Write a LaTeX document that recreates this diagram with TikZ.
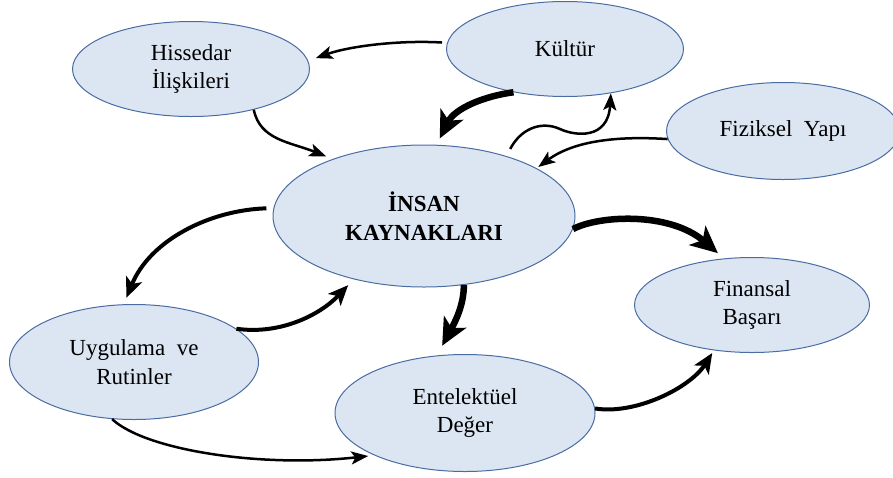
\documentclass[tikz,border=0pt]{standalone}
\usepackage{fontspec}
\setmainfont{Liberation Serif}
\usetikzlibrary{arrows.meta,shapes.geometric}
\definecolor{ovalfill}{HTML}{DCE6F2}
\definecolor{ovaldraw}{HTML}{4A6CA3}
\tikzset{
  oval/.style={ellipse, draw=ovaldraw, line width=1pt, fill=ovalfill,
    inner sep=0pt, align=center, font=\fontsize{23}{28.5}\selectfont},
  thinarrow/.style={line width=2.5pt, -{Stealth[length=17pt,width=13pt,inset=4pt]}},
  midarrow/.style={line width=4pt, -{Stealth[length=20pt,width=17pt,inset=5pt]}},
  bigarrow/.style={line width=6.5pt, -{Stealth[length=27pt,width=25pt,inset=7pt]}},
}
\begin{document}
\begin{tikzpicture}[x=1pt,y=-1pt]
\useasboundingbox (0,0) rectangle (893,477);

% ovals
\node[oval, minimum width=302pt, minimum height=142pt, font=\fontsize{23}{29}\selectfont\bfseries]
  (hr) at (424,216) {İNSAN\\KAYNAKLARI};
\node[oval, minimum width=237pt, minimum height=95pt] (hiss) at (191,69) {Hissedar\\İlişkileri};
\node[oval, minimum width=237pt, minimum height=95pt] (kult) at (565,49) {Kültür};
\node[oval, minimum width=233pt, minimum height=97pt] (fiz) at (783,131) {Fiziksel~~Yapı};
\node[oval, minimum width=235pt, minimum height=95pt] (fin) at (752,305) {Finansal\\Başarı};
\node[oval, minimum width=249pt, minimum height=115pt] (uyg) at (134,362) {Uygulama~~ve\\Rutinler};
\node[oval, minimum width=260pt, minimum height=117pt] (ent) at (465,413) {Entelektüel\\Değer};

% thin connectors
\draw[thinarrow, shorten <=5pt, shorten >=8pt]
  (kult.177) .. controls (400,40) and (350,46) .. (hiss.4);
\draw[thinarrow, shorten >=7pt]
  (hiss.-33) .. controls (260,140) and (290,142) .. (hr.148);
\draw[thinarrow, shorten <=8pt]
  (hr.36) .. controls (520,130) and (540,120) .. (560,129)
          .. controls (575,136) and (608,140) .. (kult.-44);
\draw[thinarrow, shorten >=2pt]
  (fiz.184) .. controls (620,136) and (575,140) .. (hr.23);
\draw[thinarrow, shorten >=6pt]
  (uyg.-111) .. controls (145,450) and (260,468) .. (ent.-155);

% medium connectors
\draw[midarrow, shorten <=7pt, shorten >=7pt]
  (hr.177) .. controls (210,210) and (150,240) .. (uyg.100);
\draw[midarrow, shorten >=8pt]
  (uyg.18) .. controls (280,335) and (320,315) .. (hr.-138);
\draw[midarrow, shorten >=3pt]
  (ent.2) .. controls (635,415) and (690,388) .. (fin.-130);

% heavy connectors
\draw[bigarrow, shorten >=7pt]
  (kult.-140) .. controls (485,96) and (455,108) .. (hr.80);
\draw[bigarrow, shorten >=11pt]
  (hr.-60) .. controls (464,305) and (455,322) .. (ent.116);
\draw[bigarrow, shorten >=8pt]
  (hr.-5) .. controls (600,215) and (670,212) .. (fin.121);
\end{tikzpicture}
\end{document}
